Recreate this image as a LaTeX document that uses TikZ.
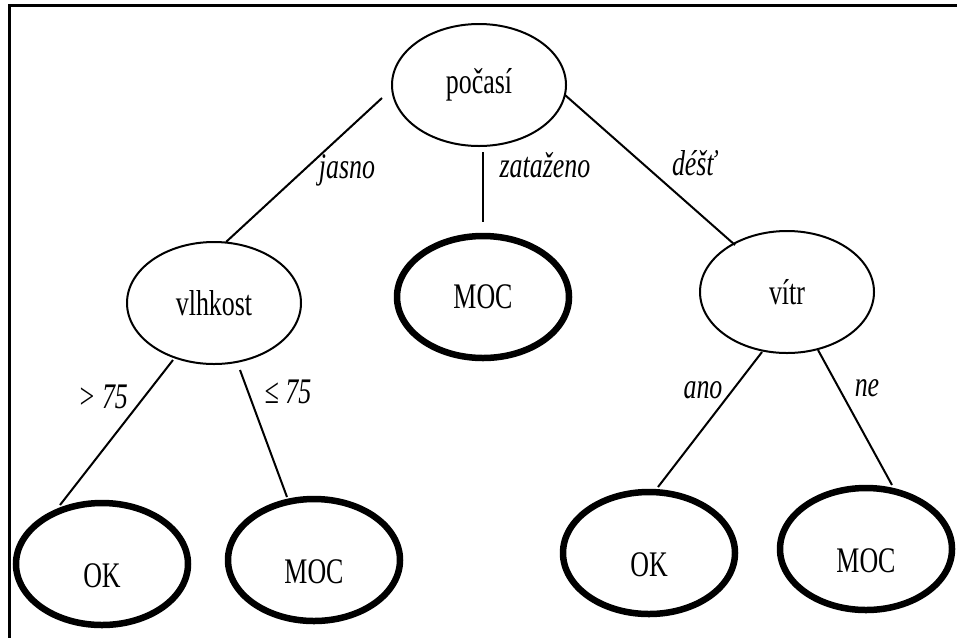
\documentclass[tikz,border=0pt]{standalone}
\usepackage{fontspec}
\setmainfont[FakeStretch=0.72]{Liberation Serif}
\usetikzlibrary{shapes.geometric,calc}
\begin{document}
\begin{tikzpicture}[x=1pt,y=-1pt,
  every node/.style={font=\fontsize{36}{40}\selectfont},
  innerbox/.style={ellipse,draw,line width=2pt,inner sep=0pt,minimum width=174pt,minimum height=122pt},
  leafbox/.style={ellipse,draw,line width=6.5pt,inner sep=0pt,minimum width=172pt,minimum height=122pt},
  lowtext/.style={text height=47pt,text depth=0pt},
  branch/.style={line width=2pt},
  lab/.style={font=\fontsize{36}{40}\selectfont\itshape,inner sep=0pt}
]
\useasboundingbox (0,0) rectangle (957,638);
\fill[white] (0,0) rectangle (957,638);
% frame
\coordinate (ftl) at (9.5,5.5);
\coordinate (ftr) at (957,5.5);
\coordinate (fbl) at (9.5,638);
\draw[line width=3pt] ([xshift=-1.5pt]ftl) -- (ftr);
\draw[line width=2.5pt] (ftl) -- (fbl);
% nodes
\node[innerbox] (pocasi) at (479,85) {počasí};
\node[innerbox] (vlhkost) at (214,303) {vlhkost};
\node[leafbox] (moc1) at (483,297) {MOC};
\node[innerbox] (vitr) at (787,292) {vítr};
\node[leafbox,lowtext] (ok1) at (102,564) {OK};
\node[leafbox,lowtext] (moc2) at (314,560) {MOC};
\node[leafbox,lowtext] (ok2) at (649,553) {OK};
\node[leafbox,lowtext] (moc3) at (866,549) {MOC};
% branches
\draw[branch] ($(pocasi)+(-97,13)$) -- ($(vlhkost)+(12,-61)$);
\draw[branch] ($(pocasi)+(4,67)$) -- ($(moc1)+(0,-75)$);
\draw[branch] ($(pocasi)+(86,10)$) -- ($(vitr)+(-52,-47)$);
\draw[branch] ($(vlhkost)+(-41,57)$) -- ($(ok1)+(-42,-59)$);
\draw[branch] ($(vlhkost)+(26,67)$) -- ($(moc2)+(-27,-63)$);
\draw[branch] ($(vitr)+(-25,60)$) -- ($(ok2)+(9,-66)$);
\draw[branch] ($(vitr)+(31,58)$) -- ($(moc3)+(26,-64)$);
% labels
\node[lab] (ljasno) at (347,170) {jasno};
\node[lab] (lzat) at (545,165) {zataženo};
\node[lab] (ldest) at (694,163) {déšť};
\node[lab] (lgt) at (103,397) {> 75};
\node[lab] (lle) at (288,392) {≤ 75};
\node[lab] (lano) at (703,390) {ano};
\node[lab] (lne) at (867,388) {ne};
\end{tikzpicture}
\end{document}
